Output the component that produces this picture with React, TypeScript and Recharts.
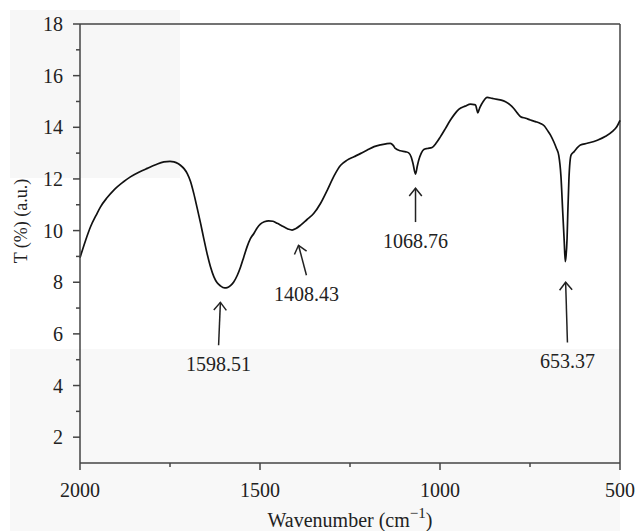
import { LineChart, Line, XAxis, YAxis, ReferenceLine } from "recharts";

// FTIR spectrum (wavenumber in cm-1, T in %)
const wavenumber = [
  2000, 1985, 1971, 1955, 1943, 1925, 1906, 1880, 1860, 1835, 1813, 1790, 1767, 1750, 1739,
  1728, 1721, 1710, 1702, 1693, 1684, 1675, 1665, 1656, 1647, 1638, 1628, 1619, 1610, 1598,
  1591, 1582, 1573, 1563, 1554, 1545, 1536, 1527, 1517, 1508, 1499, 1488, 1476, 1464, 1452,
  1440, 1429, 1420, 1411, 1400, 1387, 1370, 1351, 1332, 1313, 1295, 1276, 1258, 1239, 1220,
  1202, 1183, 1165, 1150, 1138, 1130, 1124, 1110, 1095, 1087, 1080, 1075, 1068, 1063, 1059,
  1052, 1045, 1035, 1022, 1010, 999, 985, 971, 960, 948, 930, 915, 905, 901, 898,
  895, 891, 888, 880, 869, 855, 841, 830, 818, 806, 795, 785, 776, 762, 749,
  735, 721, 710, 702, 693, 684, 677, 670, 664, 659, 655, 652, 650, 647, 645,
  642, 636, 628, 610, 591, 563, 540, 520, 510, 500,
];
const transmittance = [
  8.95, 9.6, 10.14, 10.6, 10.92, 11.27, 11.57, 11.88, 12.08, 12.27, 12.41, 12.55, 12.66, 12.68, 12.66,
  12.6, 12.53, 12.38, 12.21, 11.9, 11.44, 10.9, 10.28, 9.68, 9.11, 8.62, 8.21, 7.98, 7.86, 7.78,
  7.79, 7.87, 8.01, 8.27, 8.59, 8.98, 9.37, 9.68, 9.89, 10.1, 10.25, 10.34, 10.38, 10.36, 10.28,
  10.19, 10.11, 10.05, 10.02, 10.08, 10.21, 10.42, 10.66, 11.05, 11.57, 12.1, 12.53, 12.73, 12.86, 12.99,
  13.12, 13.25, 13.32, 13.36, 13.38, 13.3, 13.18, 13.09, 13.05, 13.01, 12.85, 12.6, 12.19, 12.5, 12.73,
  13.0, 13.14, 13.18, 13.22, 13.4, 13.63, 13.95, 14.28, 14.5, 14.69, 14.82, 14.9, 14.88, 14.86, 14.7,
  14.56, 14.7, 14.8, 15.0, 15.16, 15.12, 15.08, 15.05, 14.99, 14.88, 14.73, 14.55, 14.41, 14.35, 14.28,
  14.22, 14.15, 14.05, 13.89, 13.7, 13.44, 13.2, 12.9, 12.1, 10.7, 9.6, 8.8, 9.0, 9.7, 10.7,
  11.95, 12.92, 13.05, 13.31, 13.38, 13.5, 13.65, 13.85, 14.0, 14.27,
];

const xTicks = [2000, 1750, 1500, 1250, 1000, 750, 500];
const xMajorTicks = [2000, 1500, 1000, 500];
const yTicks = [2, 3, 4, 5, 6, 7, 8, 9, 10, 11, 12, 13, 14, 15, 16, 17, 18];
const yMajorTicks = [2, 4, 6, 8, 10, 12, 14, 16, 18];

// peak annotations: label, arrow tail and tip (data units)
const peakLabels = ["1598.51", "1408.43", "1068.76", "653.37"];
const arrowTailX = [1615, 1371, 1068, 646];
const arrowTailY = [5.56, 8.27, 10.33, 5.67];
const arrowTipX = [1610, 1393, 1068, 651];
const arrowTipY = [7.22, 9.43, 11.64, 8.0];

const data = wavenumber.map((w, i) => ({ w, t: transmittance[i] }));

const FONT = '"Liberation Serif", "Times New Roman", serif';
const AXIS = "#444";
const TEXT = "#222";

const YTick = ({ x, y, payload }: any) => {
  const major = yMajorTicks.includes(payload.value);
  return (
    <g>
      <line x1={x - (major ? 7 : 4)} x2={x} y1={y} y2={y} stroke={AXIS} strokeWidth={1.5} />
      {major && (
        <text x={x - 17} y={y + 7} textAnchor="end" fontFamily={FONT} fontSize={20} fill={TEXT}>
          {payload.value}
        </text>
      )}
    </g>
  );
};

const XTick = ({ x, y, payload }: any) => {
  const major = xMajorTicks.includes(payload.value);
  return (
    <g>
      <line x1={x} x2={x} y1={y} y2={y + (major ? 7 : 4)} stroke={AXIS} strokeWidth={1.5} />
      {major && (
        <text x={x} y={y + 34} textAnchor="middle" fontFamily={FONT} fontSize={20} fill={TEXT}>
          {payload.value}
        </text>
      )}
    </g>
  );
};

const XTitle = ({ viewBox }: any) => {
  const cx = viewBox.x + viewBox.width / 2;
  return (
    <text x={cx} y={viewBox.y + 64} textAnchor="middle" fontFamily={FONT} fontSize={20} fill={TEXT}>
      Wavenumber (cm
      <tspan dy={-9} fontSize={15}>−1</tspan>
      <tspan dy={9}>)</tspan>
    </text>
  );
};

const YTitle = ({ viewBox }: any) => {
  const cy = viewBox.y + 197;
  return (
    <text
      x={21}
      y={cy}
      transform={`rotate(-90, 21, ${cy})`}
      textAnchor="middle"
      dominantBaseline="central"
      fontFamily={FONT}
      fontSize={18}
      fill={TEXT}
    >
      T (%) (a.u.)
    </text>
  );
};

const arrowShape = (label: string) => (p: any) => {
  const { x1, y1, x2, y2 } = p;
  const ang = Math.atan2(y2 - y1, x2 - x1);
  const len = 10;
  const spread = 0.68;
  const ax = x2 - len * Math.cos(ang - spread);
  const ay = y2 - len * Math.sin(ang - spread);
  const bx = x2 - len * Math.cos(ang + spread);
  const by = y2 - len * Math.sin(ang + spread);
  return (
    <g>
      <line x1={x1} y1={y1} x2={x2} y2={y2} stroke="#222" strokeWidth={1.5} />
      <polyline points={`${ax},${ay} ${x2},${y2} ${bx},${by}`} fill="none" stroke="#222" strokeWidth={1.5} />
      <text x={x1} y={y1 + 26} textAnchor="middle" fontFamily={FONT} fontSize={20} fill={TEXT}>
        {label}
      </text>
    </g>
  );
};

export default function App() {
  return (
    <div style={{ position: "absolute", left: 0, top: 0, width: 638, height: 531, background: "#fff" }}>
      {/* faint grey patches of the scanned original */}
      <div style={{ position: "absolute", left: 10, top: 10, width: 170, height: 168, background: "#f7f7f7" }} />
      <div style={{ position: "absolute", left: 10, top: 349, width: 610, height: 182, background: "#f8f8f8" }} />
      <div style={{ position: "absolute", left: 0, top: 0 }}>
        <LineChart width={638} height={531} data={data} margin={{ top: 24, right: 18, bottom: 0, left: 0 }}>
          <XAxis
            dataKey="w"
            type="number"
            domain={[500, 2000]}
            reversed
            ticks={xTicks}
            interval={0}
            tick={<XTick />}
            tickLine={false}
            tickSize={0}
            tickMargin={0}
            height={68}
            axisLine={{ stroke: AXIS, strokeWidth: 1.5 }}
            label={<XTitle />}
          />
          <YAxis
            type="number"
            domain={[1, 18]}
            ticks={yTicks}
            interval={0}
            tick={<YTick />}
            tickLine={false}
            tickSize={0}
            tickMargin={0}
            width={80}
            axisLine={{ stroke: AXIS, strokeWidth: 1.5 }}
            label={<YTitle />}
          />
          <ReferenceLine y={18} stroke={AXIS} strokeWidth={1.5} />
          <ReferenceLine x={500} stroke={AXIS} strokeWidth={1.5} />
          {peakLabels.map((lab, i) => (
            <ReferenceLine
              key={lab}
              segment={[
                { x: arrowTailX[i], y: arrowTailY[i] },
                { x: arrowTipX[i], y: arrowTipY[i] },
              ]}
              shape={arrowShape(lab)}
            />
          ))}
          <Line
            type="monotone"
            dataKey="t"
            stroke="#111"
            strokeWidth={1.7}
            dot={false}
            isAnimationActive={false}
          />
        </LineChart>
      </div>
    </div>
  );
}
